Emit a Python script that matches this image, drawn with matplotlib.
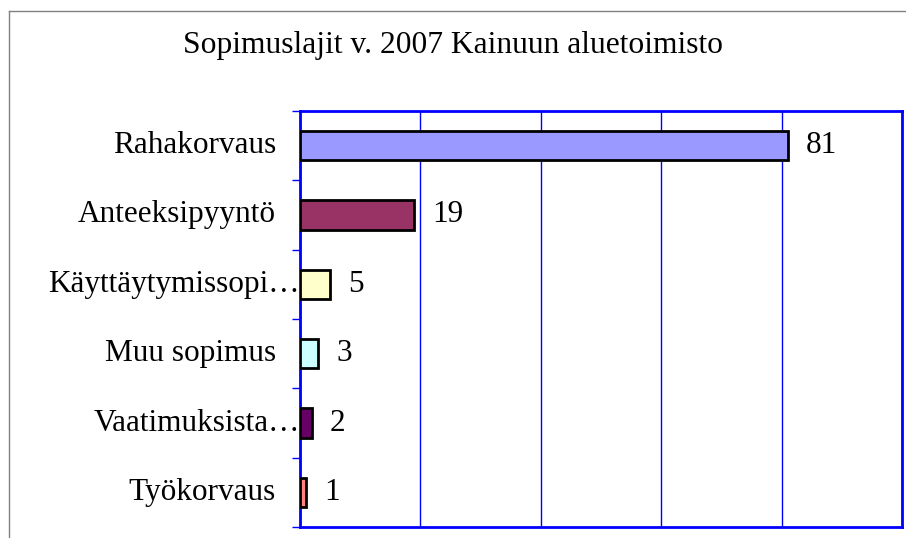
import matplotlib
matplotlib.use('Agg')

import matplotlib.pyplot as plt
import matplotlib.transforms as mtransforms
import numpy as np
from matplotlib.lines import Line2D

plt.rcParams['font.family'] = ['Liberation Serif', 'DejaVu Serif']

title = 'Sopimuslajit v. 2007 Kainuun aluetoimisto'
categories = ['Rahakorvaus', 'Anteeksipyyntö', 'Käyttäytymissopi…',
              'Muu sopimus', 'Vaatimuksista…', 'Työkorvaus']
values = [81, 19, 5, 3, 2, 1]
colors = ['#9999FF', '#993366', '#FFFFCC', '#CCFFFF', '#660066', '#FF8080']
x_ticks = [0, 20, 40, 60, 80, 100]

fig = plt.figure(figsize=(9.06, 5.38), dpi=100)
ax = fig.add_axes([0.3311, 0.0204, 0.6645, 0.7733])

y = np.arange(len(categories))
ax.barh(y, values, height=0.42, color=colors, edgecolor='black', linewidth=2, zorder=3)

ax.set_xlim(x_ticks[0], x_ticks[-1])
ax.set_ylim(len(categories) - 0.5, -0.5)
ax.set_xticks(x_ticks)
ax.set_xticklabels([])
ax.tick_params(axis='x', length=0)
ax.grid(axis='x', color='#0000FF', linewidth=1, zorder=1)

# category boundaries get the small tick marks
ax.set_yticks(np.arange(len(categories) + 1) - 0.5)
ax.set_yticklabels([])
ax.tick_params(axis='y', length=6, width=1, color='#0000FF', direction='out')

for s in ax.spines.values():
    s.set_color('#0000FF')
    s.set_linewidth(2)

trans = mtransforms.blended_transform_factory(ax.transAxes, ax.transData)
for i, (name, v) in enumerate(zip(categories, values)):
    xpos = 0.0 if name.endswith('…') else -0.04
    ax.text(xpos, i, name, transform=trans, ha='right', va='center', fontsize=22.5)
    ax.annotate(str(v), (v, i), xytext=(13, 0), textcoords='offset points',
                ha='left', va='center', fontsize=22.5)

fig.text(0.5, 0.915, title, ha='center', va='center', fontsize=22.7)

# outer chart frame (top and left edges visible)
fig.add_artist(Line2D([0.0099, 1.0], [0.9796, 0.9796], color='#808080', linewidth=1,
                      transform=fig.transFigure))
fig.add_artist(Line2D([0.0099, 0.0099], [0.0, 0.9796], color='#808080', linewidth=1,
                      transform=fig.transFigure))

fig.savefig('out.png', dpi=100)
